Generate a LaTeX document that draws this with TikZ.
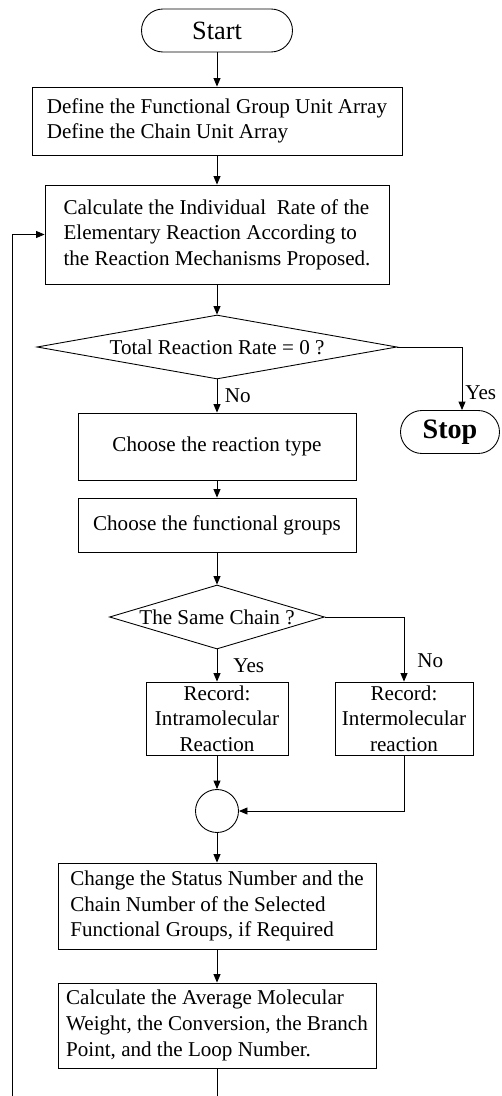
\documentclass[tikz,border=0pt]{standalone}
\usepackage{fontspec}
\setmainfont{Liberation Serif}
\usetikzlibrary{arrows.meta, shapes.geometric}

\begin{document}
\begin{tikzpicture}[>={Triangle[length=1.7mm, width=1.4mm]}, line width=0.5pt,
  font=\fontsize{12}{14.6}\selectfont,
  procbox/.style={draw, rectangle, inner sep=0pt, align=center},
  leftbox/.style={procbox, align=left},
  terminal/.style={draw, rectangle, rounded corners=4.3mm, minimum height=8.6mm, inner sep=0pt},
  decision/.style={draw, diamond, inner sep=0pt, minimum height=1.28cm},
  branch/.style={inner sep=0pt}]

% Canvas: 501 x 1096 px, 1px = 0.02cm
\useasboundingbox (0,0) rectangle (10.02,-21.92);

% ================================================================
% Main column
% ================================================================
\node[terminal, minimum width=3.02cm, font=\fontsize{15}{18}\selectfont] (start) at (4.34,-0.61) {Start};

\node[leftbox, minimum width=7.40cm, minimum height=1.36cm] (define) at (4.34,-2.42)
  {Define the Functional Group Unit Array\\Define the Chain Unit Array};

\node[leftbox, minimum width=6.88cm, minimum height=1.98cm] (calcrate) at (4.34,-4.69)
  {Calculate the Individual \ Rate of the\\Elementary Reaction According to\\the Reaction Mechanisms Proposed.};

% Decision: total rate
\node[decision, minimum width=7.20cm, label={center:Total Reaction Rate = 0 ?}] (total) at (4.34,-6.94) {};

\node[terminal, minimum width=1.98cm, font=\fontsize{16}{19}\bfseries] (stop) at (9.0,-8.64) {Stop};

\node[procbox, minimum width=5.56cm, minimum height=1.34cm] (choosetype) at (4.34,-8.93)
  {Choose the reaction type};

\node[procbox, minimum width=5.56cm, minimum height=1.08cm] (choosegrp) at (4.34,-10.50)
  {Choose the functional groups};

% Decision: same chain
\node[decision, minimum width=4.30cm, label={center:The Same Chain ?}] (samechain) at (4.34,-12.34) {};

\node[procbox, minimum width=2.84cm, minimum height=1.46cm] (intra) at (4.34,-14.37)
  {Record:\\Intramolecular\\Reaction};
\node[procbox, minimum width=2.76cm, minimum height=1.46cm] (inter) at (8.08,-14.37)
  {Record:\\Intermolecular\\reaction};

\node[draw, circle, minimum size=0.86cm, inner sep=0pt] (merge) at (4.34,-16.22) {};

\node[leftbox, minimum width=6.36cm, minimum height=1.72cm] (status) at (4.34,-18.12)
  {Change the Status Number and the\\Chain Number of the Selected\\Functional Groups, if Required};

\node[leftbox, minimum width=6.36cm, minimum height=1.70cm] (average) at (4.34,-20.51)
  {Calculate the Average Molecular\\Weight, the Conversion, the Branch\\Point, and the Loop Number.};

% Loop ends at the lower edge
\coordinate (avgend) at (4.34,-21.92);
\coordinate (loopend) at (0.24,-21.92);

% ================================================================
% Connectors
% ================================================================
\draw[->] (start) -- (define);
\draw[->] (define) -- (calcrate);
\draw[->] (calcrate) -- (total);
\draw[->] (total) -- node[branch, right=0.15cm] {No} (choosetype);
\draw[->] (total.east) -| ([xshift=0.24cm]stop.north)
  node[branch, right=0.06cm, pos=0.86] {Yes};
\draw[->] (choosetype) -- (choosegrp);
\draw[->] (choosegrp) -- (samechain);
\draw[->] (samechain) -- node[branch, right=0.32cm] {Yes} (intra);
\draw[->] (samechain.east) -| (inter.north)
  node[branch, right=0.26cm, pos=0.84] {No};
\draw[->] (intra) -- (merge);
\draw[->] (inter.south) |- (merge.east);
\draw[->] (merge) -- (status);
\draw[->] (status) -- (average);
\draw (average) -- (avgend);
\draw[->] (loopend) |- (calcrate.west);

\end{tikzpicture}
\end{document}
